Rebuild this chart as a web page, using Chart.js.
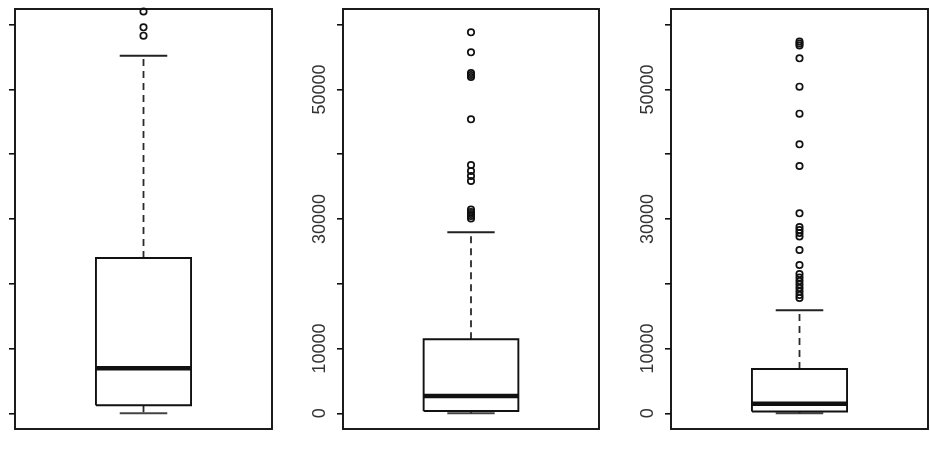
<!DOCTYPE html>
<html>
<head>
<meta charset="utf-8">
<script src="https://cdn.jsdelivr.net/npm/chart.js@4.4.1/dist/chart.umd.min.js"></script>
<style>
  html, body { margin: 0; padding: 0; background: #fff; }
  #wrap { position: relative; width: 930px; height: 454px; overflow: hidden; }
  canvas { position: absolute; top: 0; }
</style>
</head>
<body>
<div id="wrap">
  <canvas id="box1" width="276" height="454" style="left:0px"></canvas>
  <canvas id="box2" width="300" height="454" style="left:300px"></canvas>
  <canvas id="box3" width="300" height="454" style="left:630px"></canvas>
</div>
<script>
// shared y axis
const yTicks = [0, 10000, 20000, 30000, 40000, 50000, 60000];
const tickLabels = ['0', '10000', '', '30000', '', '50000', ''];

// five numbers: lower whisker, q1, median, q3, upper whisker
const stats1 = [0, 1235, 6948, 23977, 55211];
const outliers1 = [58299, 59596, 62035];

const stats2 = [0, 355, 2671, 11425, 27945];
const outliers2 = [30076, 30462, 30771, 31080, 31466, 35866, 36638, 37410, 38336,
                   45392, 51922, 52231, 52540, 55736, 58824];

const stats3 = [0, 278, 1467, 6840, 15903];
const outliers3 = [17802, 18265, 18805, 19345, 19886, 20426, 20966, 21507, 22896,
                   25212, 27297, 27837, 28300, 28764, 30879, 38181, 41532, 46256,
                   50425, 54810, 56786, 57095, 57403];

const INK = '#111';

function lineSet(points, width, dash, color) {
    return {
        type: 'scatter',
        data: points,
        showLine: true,
        fill: false,
        tension: 0,
        pointRadius: 0,
        borderColor: color || INK,
        borderWidth: width,
        borderDash: dash || [],
        borderJoinStyle: 'miter',
        borderCapStyle: 'butt',
        clip: false
    };
}

function boxDatasets(stats, outliers) {
    const [lo, q1, med, q3, hi] = stats;
    const hw = 0.185;  // half box width (x units)
    const cw = 0.0925; // half cap width
    return [
        lineSet([{x: 1 - hw, y: q1}, {x: 1 - hw, y: q3}, {x: 1 + hw, y: q3},
                 {x: 1 + hw, y: q1}, {x: 1 - hw, y: q1}], 1.9),
        lineSet([{x: 1 - hw, y: med}, {x: 1 + hw, y: med}], 4.5),
        lineSet([{x: 1, y: q3}, {x: 1, y: hi}], 1.8, [7, 5], '#2a2a2a'),
        lineSet([{x: 1, y: q1}, {x: 1, y: lo}], 1.8, [7, 5], '#2a2a2a'),
        lineSet([{x: 1 - cw, y: hi}, {x: 1 + cw, y: hi}], 1.9, null, '#222'),
        lineSet([{x: 1 - cw, y: lo}, {x: 1 + cw, y: lo}], 1.9, null, '#444'),
        {
            type: 'scatter',
            data: outliers.map(v => ({x: 1, y: v})),
            pointRadius: 3.2,
            pointBorderWidth: 1.7,
            pointBorderColor: INK,
            pointBackgroundColor: 'rgba(0,0,0,0)',
            showLine: false,
            clip: false
        }
    ];
}

// frame around the plot + rotated tick labels
const framePlugin = {
    id: 'frame',
    afterDraw(chart, args, opts) {
        const ctx = chart.ctx;
        const a = chart.chartArea;
        ctx.save();
        ctx.strokeStyle = INK;
        ctx.lineWidth = 1.9;
        ctx.strokeRect(a.left, a.top, a.right - a.left, a.bottom - a.top);
        if (opts.showLabels) {
            const y = chart.scales.y;
            ctx.fillStyle = '#333';
            ctx.font = '18px "Liberation Sans", Arial, sans-serif';
            ctx.textAlign = 'center';
            ctx.textBaseline = 'middle';
            yTicks.forEach((v, i) => {
                if (!tickLabels[i]) return;
                ctx.save();
                ctx.translate(a.left - 22.5, y.getPixelForValue(v));
                ctx.rotate(-Math.PI / 2);
                ctx.fillText(tickLabels[i], 0, 0);
                ctx.restore();
            });
        }
        ctx.restore();
    }
};

function drawBox(id, stats, outliers, axisWidth, padRight, showLabels) {
    new Chart(document.getElementById(id), {
        type: 'scatter',
        data: { datasets: boxDatasets(stats, outliers) },
        plugins: [framePlugin],
        options: {
            responsive: false,
            animation: false,
            devicePixelRatio: 1,
            layout: {
                autoPadding: false,
                padding: { left: 0, right: padRight, top: 9, bottom: 25 }
            },
            plugins: {
                legend: { display: false },
                tooltip: { enabled: false },
                frame: { showLabels: showLabels }
            },
            scales: {
                x: { type: 'linear', display: false, min: 0.5, max: 1.5 },
                y: {
                    type: 'linear',
                    min: -2424,
                    max: 62424,
                    afterBuildTicks: scale => { scale.ticks = yTicks.map(v => ({value: v})); },
                    afterFit: scale => { scale.width = axisWidth; },
                    border: { display: false },
                    grid: {
                        drawOnChartArea: false,
                        drawTicks: true,
                        tickLength: 6,
                        color: INK,
                        lineWidth: 1.6
                    },
                    ticks: { display: false }
                }
            }
        }
    });
}

drawBox('box1', stats1, outliers1, 15, 4, false);
drawBox('box2', stats2, outliers2, 43, 1, true);
drawBox('box3', stats3, outliers3, 41, 2, true);
</script>
</body>
</html>
